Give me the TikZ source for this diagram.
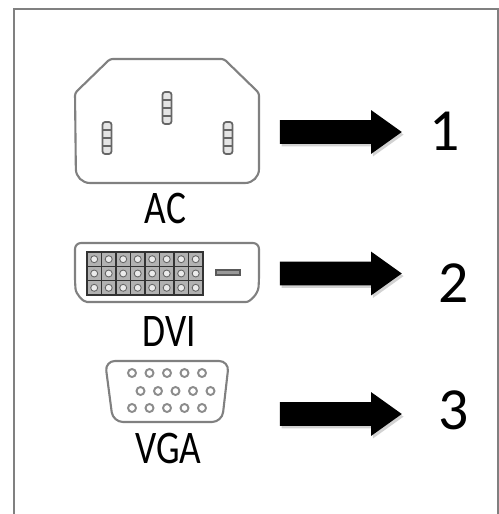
\documentclass[tikz,border=0pt]{standalone}
\usepackage{fontspec}
\setmainfont{Carlito}
\usetikzlibrary{shapes.arrows,shadows}
\definecolor{outline}{gray}{0.5}
\definecolor{pin}{gray}{0.55}
\tikzstyle{port} = [draw=outline, line width=1.2pt, line join=round]
\tikzstyle{slot} = [draw=black!60, line width=1pt, fill=black!10]
\tikzstyle{cell} = [draw=black!80, line width=0.8pt, fill=black!30]
\tikzstyle{hole} = [draw=pin, line width=1.1pt, fill=white]
\tikzstyle{label} = [inner sep=0pt, text=black, font=\fontsize{26.6}{30}\selectfont]
\tikzstyle{number} = [inner sep=0pt, text=black, font=\fontsize{34}{38}\selectfont]
\tikzstyle{bigarrow} = [single arrow, fill=black, inner sep=0pt, text height=0.46cm, text depth=0cm, minimum height=2.44cm, single arrow head extend=0.2cm, single arrow tip angle=71, drop shadow={shadow xshift=1pt, shadow yshift=-1.5pt, fill=black!35}]

\begin{document}
\begin{tikzpicture}[x=0.02cm, y=-0.02cm]
	\useasboundingbox (0,0) rectangle (499,514);
	% Frame
	\draw[outline, line width=1.4pt] (14,514) -- (14,9) -- (498,9) -- (498,514);

	% AC socket
	\draw[port, rounded corners=1.5pt] (110,59) -- (224,59) -- (259,93) [rounded corners=0.28cm] -- (259,183) -- (76,183) [rounded corners=1.5pt] -- (75,93) -- cycle;
	\foreach \x/\y in {167/92, 107/122, 228/122} {
		\draw[slot, rounded corners=1.5pt] (\x-4.5,\y) rectangle (\x+4.5,\y+32);
		\foreach \k in {8,16,24}
			\draw[black!60, line width=0.6pt] (\x-4.5,\y+\k) -- (\x+4.5,\y+\k);
	}

	% DVI socket
	\draw[port, rounded corners=0.12cm] (75,243) -- (259,243) -- (259,281) .. controls (258,294) and (250,302) .. (240,302) -- (93,302) .. controls (83,302) and (76,294) .. (75,283) -- cycle;
	\foreach \c in {0,...,7}
		\foreach \r in {0,1,2} {
			\draw[cell] (87+14.5*\c,252+14.3*\r) rectangle +(14.5,14.3);
			\draw[draw=black!60, line width=0.5pt, fill=black!8] (94.2+14.5*\c,259.2+14.3*\r) circle (3.5);
		}
	\draw[draw=black!65, line width=0.7pt, fill=black!40] (216,270) rectangle (240,275);

	% VGA socket
	\draw[port, rounded corners=0.2cm] (105,361) -- (229,361) -- (222,422) -- (113,422) -- cycle;
	\foreach \x in {132,149.5,167,184.5,202} {
		\draw[hole] (\x,373) circle (4);
		\draw[hole] (\x,408) circle (4);
		\draw[hole] (\x+8.5,391) circle (4);
	}

	% Place nodes
	\node[label] (ac) at (165.5,208) {\scalebox{.8}[1]{AC}};
	\node[label] (dvi) at (169.5,332) {\scalebox{.8}[1]{DVI}};
	\node[label] (vga) at (168.5,448) {\scalebox{.8}[1]{VGA}};

	\node[bigarrow] (arrowac) at (332.5,132) {};
	\node[bigarrow] (arrowdvi) at (332.5,273.5) {};
	\node[bigarrow] (arrowvga) at (332.5,414) {};

	\node[number] (one) at (445,131) {1};
	\node[number] (two) at (454,283) {2};
	\node[number] (three) at (454,410) {3};
\end{tikzpicture}
\end{document}
